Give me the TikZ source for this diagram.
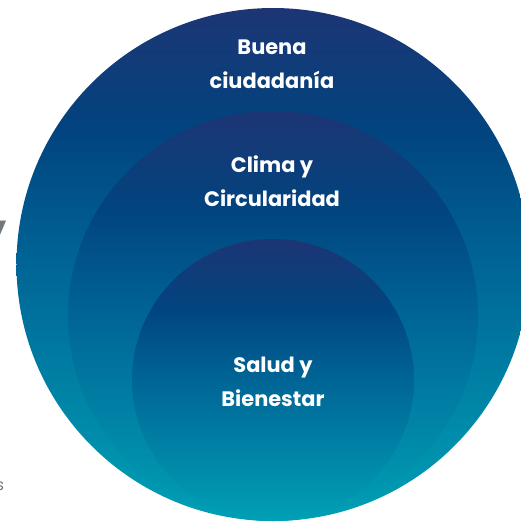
\documentclass[tikz,border=0pt]{standalone}
\usepackage{fontspec}
\setmainfont{Poppins}
\definecolor{ringtop}{HTML}{1D3574}
\definecolor{ringdeep}{HTML}{01447F}
\definecolor{ringmid}{HTML}{006596}
\definecolor{ringbot}{HTML}{00A0B5}
\definecolor{sidegray}{HTML}{6F797E}
\pgfdeclareverticalshading{ringshade}{100bp}{color(0bp)=(ringbot); color(25bp)=(ringbot); color(50bp)=(ringmid); color(63bp)=(ringdeep); color(75bp)=(ringtop); color(100bp)=(ringtop)}
\begin{document}
\begin{tikzpicture}[x=0.02cm,y=-0.02cm,
  ringtext/.style={text=white,align=center,inner sep=0pt,font=\bfseries\fontsize{11.9}{19.3}\selectfont},
  sidetext/.style={text=sidegray,inner sep=0pt,anchor=base east}]
    \useasboundingbox (0,0) rectangle (521,522);
    \clip (0,0) rectangle (521,522);
    \foreach \cy/\r in {264.5/256.5,316/205,380/141}
    \shade[shading=ringshade] (273,\cy) circle (\r);
    \node[ringtext] (buena) at (272,64) {Buena\\ciudadanía};
    \node[ringtext] (clima) at (272,181) {Clima y\\Circularidad};
    \node[ringtext] (salud) at (273,382) {Salud y\\Bienestar};
    \node[sidetext,font=\bfseries\fontsize{28}{28}\selectfont] (sidey) at (6.5,248) {y};
    \node[sidetext,font=\fontsize{9}{9}\selectfont] (sides) at (4.5,490) {s};
\end{tikzpicture}
\end{document}
